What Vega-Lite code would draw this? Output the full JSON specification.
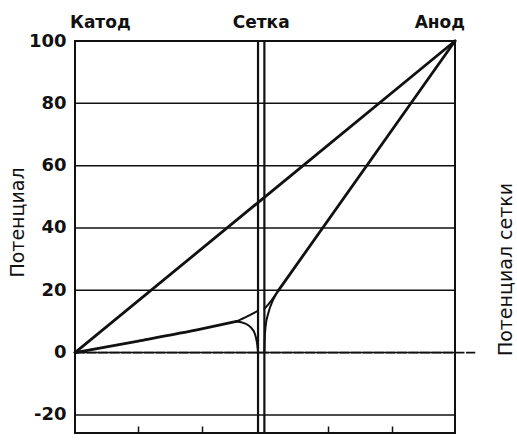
{
  "$schema": "https://vega.github.io/schema/vega-lite/v6.json",
  "width": 380,
  "height": 392,
  "autosize": "none",
  "padding": {"left": 75, "top": 41, "right": 62, "bottom": 8},
  "background": "white",
  "config": {"view": {"stroke": "#111", "strokeWidth": 2}, "font": "DejaVu Sans"},
  "datasets": {
    "hlines": [{"v": 80}, {"v": 60}, {"v": 40}, {"v": 20}, {"v": 0}, {"v": -20}],
    "wires": [{"x": 2.89}, {"x": 2.99}],
    "thick": [
      {"s": "straight", "i": 0, "x": 0, "y": 0},
      {"s": "straight", "i": 1, "x": 6, "y": 100},
      {"s": "left_main", "i": 0, "x": 0, "y": 0},
      {"s": "left_main", "i": 1, "x": 1, "y": 3.7},
      {"s": "left_main", "i": 2, "x": 2, "y": 7.6},
      {"s": "left_main", "i": 3, "x": 2.55, "y": 10},
      {"s": "right_main", "i": 0, "x": 3.21, "y": 19.9},
      {"s": "right_main", "i": 1, "x": 6, "y": 100}
    ],
    "thin": [
      {"s": "left_upper", "i": 0, "x": 2.55, "y": 10},
      {"s": "left_upper", "i": 1, "x": 2.72, "y": 11.6},
      {"s": "left_upper", "i": 2, "x": 2.88, "y": 13.3},
      {"s": "left_lower", "i": 0, "x": 2.55, "y": 10},
      {"s": "left_lower", "i": 1, "x": 2.68, "y": 9.4},
      {"s": "left_lower", "i": 2, "x": 2.78, "y": 8},
      {"s": "left_lower", "i": 3, "x": 2.84, "y": 6},
      {"s": "left_lower", "i": 4, "x": 2.87, "y": 3.5},
      {"s": "left_lower", "i": 5, "x": 2.885, "y": 1.2},
      {"s": "left_lower", "i": 6, "x": 2.89, "y": 0},
      {"s": "right_upper", "i": 0, "x": 2.99, "y": 14},
      {"s": "right_upper", "i": 1, "x": 3.1, "y": 16.7},
      {"s": "right_upper", "i": 2, "x": 3.21, "y": 19.9},
      {"s": "right_lower", "i": 0, "x": 2.99, "y": 0},
      {"s": "right_lower", "i": 1, "x": 2.995, "y": 4},
      {"s": "right_lower", "i": 2, "x": 3.01, "y": 8.5},
      {"s": "right_lower", "i": 3, "x": 3.05, "y": 12.5},
      {"s": "right_lower", "i": 4, "x": 3.13, "y": 17},
      {"s": "right_lower", "i": 5, "x": 3.21, "y": 19.9}
    ]
  },
  "layer": [
    {
      "data": {"name": "hlines"},
      "mark": {"type": "rule", "stroke": "#111", "strokeWidth": 1.5},
      "encoding": {
        "y": {
          "field": "v", "type": "quantitative",
          "scale": {"domain": [-25.8, 100], "nice": false, "zero": false},
          "axis": {
            "orient": "left",
            "values": [100, 80, 60, 40, 20, 0, -20],
            "labelExpr": "toString(datum.value)",
            "title": "Потенциал",
            "titleFont": "DejaVu Sans", "titleFontSize": 19, "titleFontWeight": "normal", "titleColor": "#111",
            "titleAngle": 270, "titleX": -58, "titleY": 181, "titleAlign": "center", "titleBaseline": "middle",
            "labelFont": "DejaVu Sans", "labelFontSize": 18, "labelFontWeight": "bold", "labelColor": "#111",
            "labelPadding": 9, "ticks": false, "domain": false, "grid": false
          }
        }
      }
    },
    {
      "data": {"values": [{"x": 0, "x2": 6.32, "y": 0}]},
      "mark": {"type": "rule", "stroke": "#111", "strokeWidth": 1.7, "strokeDash": [10, 1.5]},
      "encoding": {
        "x": {"field": "x", "type": "quantitative", "scale": {"domain": [0, 6], "nice": false, "zero": false}},
        "x2": {"field": "x2"},
        "y": {"field": "y", "type": "quantitative", "scale": {"domain": [-25.8, 100], "nice": false, "zero": false}, "axis": null}
      }
    },
    {
      "data": {"name": "wires"},
      "mark": {"type": "rule", "stroke": "#111", "strokeWidth": 2.2},
      "encoding": {
        "x": {
          "field": "x", "type": "quantitative",
          "scale": {"domain": [0, 6], "nice": false, "zero": false},
          "axis": {
            "orient": "bottom", "values": [1, 2, 4, 5], "labels": false, "title": null,
            "tickSize": -7, "tickColor": "#111", "tickWidth": 1.5, "domain": false, "grid": false
          }
        }
      }
    },
    {
      "data": {"name": "thick"},
      "mark": {"type": "line", "stroke": "#111", "strokeWidth": 2.8, "interpolate": "monotone", "strokeCap": "round"},
      "encoding": {
        "x": {"field": "x", "type": "quantitative", "scale": {"domain": [0, 6], "nice": false, "zero": false}},
        "y": {
          "field": "y", "type": "quantitative",
          "scale": {"domain": [-25.8, 100], "nice": false, "zero": false},
          "axis": {
            "orient": "right", "title": "Потенциал сетки",
            "titleFont": "DejaVu Sans", "titleFontSize": 19, "titleFontWeight": "normal", "titleColor": "#111",
            "titleAngle": 270, "titleX": 50, "titleY": 228, "titleAlign": "center", "titleBaseline": "middle",
            "labels": false, "ticks": false, "domain": false, "grid": false
          }
        },
        "detail": {"field": "s"},
        "order": {"field": "i"}
      }
    },
    {
      "data": {"name": "thin"},
      "mark": {"type": "line", "stroke": "#111", "strokeWidth": 2, "interpolate": "monotone", "strokeCap": "round"},
      "encoding": {
        "x": {"field": "x", "type": "quantitative", "scale": {"domain": [0, 6], "nice": false, "zero": false}},
        "y": {"field": "y", "type": "quantitative", "scale": {"domain": [-25.8, 100], "nice": false, "zero": false}, "axis": null},
        "detail": {"field": "s"},
        "order": {"field": "i"}
      }
    },
    {
      "data": {"values": [{"label": "Катод", "x": 0, "y": 100}]},
      "mark": {"type": "text", "align": "left", "baseline": "alphabetic", "dx": -5, "dy": -13, "font": "DejaVu Sans", "fontSize": 17, "fontWeight": "bold", "color": "#111"},
      "encoding": {
        "x": {"field": "x", "type": "quantitative", "scale": {"domain": [0, 6], "nice": false, "zero": false}},
        "y": {"field": "y", "type": "quantitative", "scale": {"domain": [-25.8, 100], "nice": false, "zero": false}, "axis": null},
        "text": {"field": "label"}
      }
    },
    {
      "data": {"values": [{"label": "Сетка", "x": 2.94, "y": 100}]},
      "mark": {"type": "text", "align": "center", "baseline": "alphabetic", "dy": -13, "font": "DejaVu Sans", "fontSize": 17, "fontWeight": "bold", "color": "#111"},
      "encoding": {
        "x": {"field": "x", "type": "quantitative", "scale": {"domain": [0, 6], "nice": false, "zero": false}},
        "y": {"field": "y", "type": "quantitative", "scale": {"domain": [-25.8, 100], "nice": false, "zero": false}, "axis": null},
        "text": {"field": "label"}
      }
    },
    {
      "data": {"values": [{"label": "Анод", "x": 6, "y": 100}]},
      "mark": {"type": "text", "align": "right", "baseline": "alphabetic", "dx": 10, "dy": -13, "font": "DejaVu Sans", "fontSize": 17, "fontWeight": "bold", "color": "#111"},
      "encoding": {
        "x": {"field": "x", "type": "quantitative", "scale": {"domain": [0, 6], "nice": false, "zero": false}},
        "y": {"field": "y", "type": "quantitative", "scale": {"domain": [-25.8, 100], "nice": false, "zero": false}, "axis": null},
        "text": {"field": "label"}
      }
    }
  ],
  "resolve": {"axis": {"y": "independent"}}
}
